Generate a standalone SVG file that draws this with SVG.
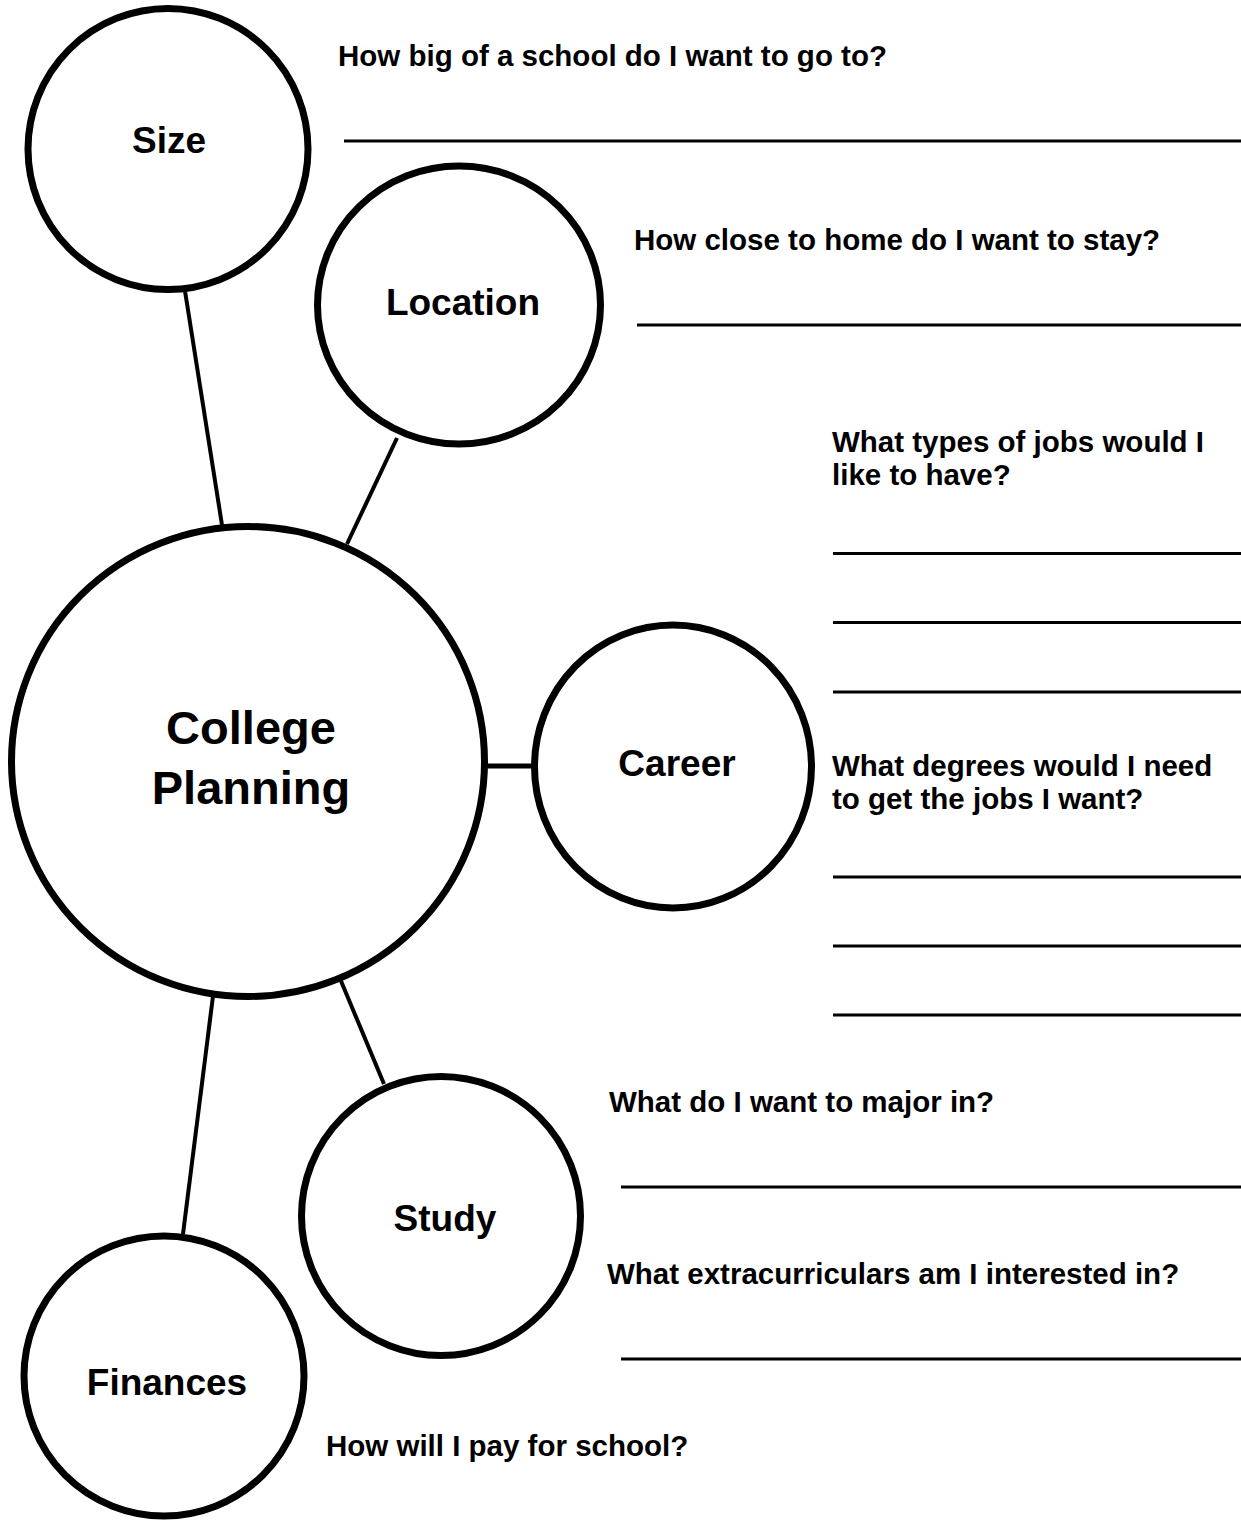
<svg xmlns="http://www.w3.org/2000/svg" width="1241" height="1525" viewBox="0 0 1241 1525">
<style>
.node{fill:#fff;stroke:#000;stroke-width:7}
.lbl{font-family:"Liberation Sans",Arial,sans-serif;font-weight:bold;font-size:37px;text-anchor:middle;fill:#000}
.big{font-size:47px}
.q{font-family:"Liberation Sans",Arial,sans-serif;font-weight:bold;font-size:29.5px;fill:#000}
.conn line{stroke:#000;stroke-width:4}
.blank line{stroke:#000;stroke-width:3}
</style>
<rect width="1241" height="1525" fill="#fff"/>
<g class="conn" id="connectors">
<line x1="185" y1="291" x2="222" y2="525"/>
<line x1="397" y1="438" x2="347" y2="544"/>
<line x1="487" y1="766" x2="532" y2="766" style="stroke-width:5"/>
<line x1="341" y1="981" x2="384" y2="1084"/>
<line x1="213" y1="996" x2="183" y2="1234"/>
</g>
<g id="node-size"><ellipse class="node" cx="168" cy="149" rx="140" ry="140.5"/><text class="lbl" x="169" y="153">Size</text></g>
<g id="node-location"><ellipse class="node" cx="459" cy="305" rx="141.5" ry="139"/><text class="lbl" x="463" y="315">Location</text></g>
<g id="node-college"><ellipse class="node" cx="248" cy="761.5" rx="236.5" ry="235"/><text class="lbl big" x="251" y="744">College</text><text class="lbl big" x="251" y="804">Planning</text></g>
<g id="node-career"><ellipse class="node" cx="673" cy="766.5" rx="138.5" ry="141.5"/><text class="lbl" x="677" y="776">Career</text></g>
<g id="node-study"><ellipse class="node" cx="441" cy="1216" rx="139.5" ry="139.5"/><text class="lbl" x="445" y="1231">Study</text></g>
<g id="node-finances"><ellipse class="node" cx="164" cy="1376" rx="140" ry="140"/><text class="lbl" x="167" y="1395">Finances</text></g>
<g id="questions">
<text class="q" x="338" y="66">How big of a school do I want to go to?</text>
<text class="q" x="634" y="250">How close to home do I want to stay?</text>
<text class="q" x="832" y="452">What types of jobs would I</text>
<text class="q" x="832" y="485">like to have?</text>
<text class="q" x="832" y="776">What degrees would I need</text>
<text class="q" x="832" y="809">to get the jobs I want?</text>
<text class="q" x="609" y="1112">What do I want to major in?</text>
<text class="q" x="607" y="1284">What extracurriculars am I interested in?</text>
<text class="q" x="326" y="1456">How will I pay for school?</text>
</g>
<g class="blank" id="answer-lines">
<line x1="344" y1="141" x2="1241" y2="141"/>
<line x1="637" y1="325" x2="1241" y2="325"/>
<line x1="833" y1="553.5" x2="1241" y2="553.5"/>
<line x1="833" y1="622.5" x2="1241" y2="622.5"/>
<line x1="833" y1="692" x2="1241" y2="692"/>
<line x1="833" y1="877" x2="1241" y2="877"/>
<line x1="833" y1="946" x2="1241" y2="946"/>
<line x1="833" y1="1015" x2="1241" y2="1015"/>
<line x1="621" y1="1187" x2="1241" y2="1187"/>
<line x1="621" y1="1359" x2="1241" y2="1359"/>
</g>
</svg>
